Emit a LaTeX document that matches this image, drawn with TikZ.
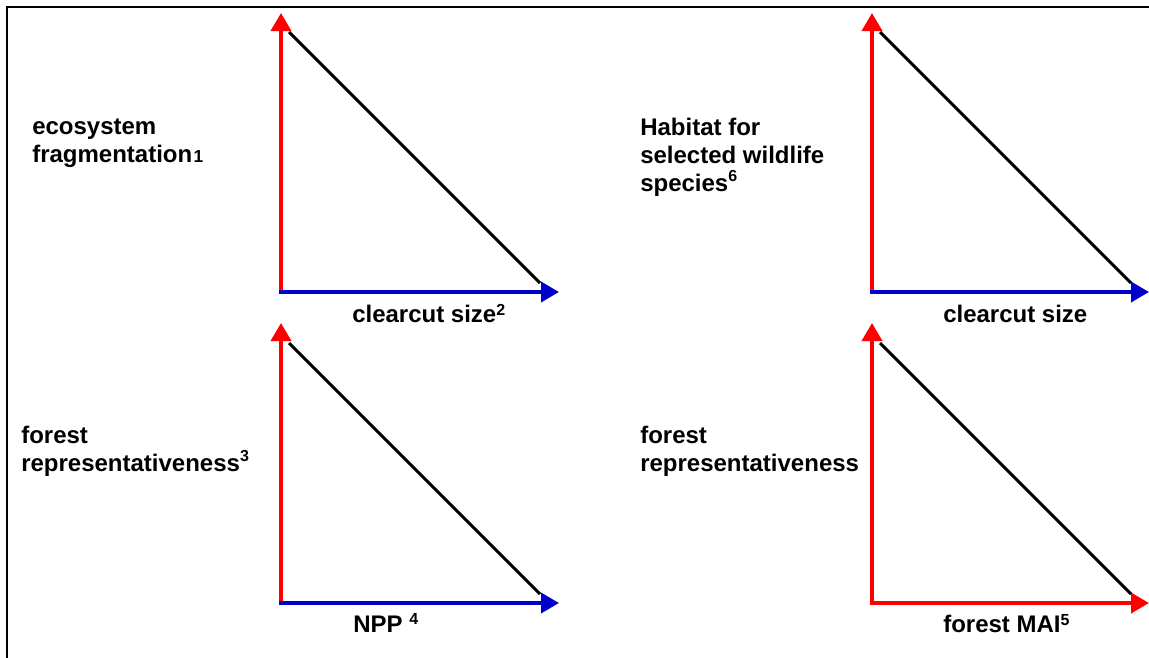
\documentclass[tikz,border=0pt]{standalone}
\usepackage{fontspec}
\setmainfont{Liberation Sans}
\usetikzlibrary{arrows.meta}
\definecolor{axred}{RGB}{255,0,0}
\definecolor{axblue}{RGB}{0,0,204}
\newcommand{\noteref}[2][0pt]{\raisebox{#1}{\fontsize{12}{12}\selectfont #2}}

\begin{document}
\begin{tikzpicture}[x=0.75pt,y=-0.75pt,>={Triangle[length=13.5pt,width=15pt]},
    axis/.style={line width=2.8pt,->},
    trend/.style={line width=2.3pt},
    lbl/.style={font=\bfseries\fontsize{18}{21}\selectfont,inner sep=0pt,align=left,anchor=base west}]
      \useasboundingbox (0,0) rectangle (1149,657);
      \draw[line width=1.5pt] (7,670) -- (7,7) -- (1160,7);
      % top left
      \coordinate (oA) at (281,292);
      \coordinate (yA) at (281,13);
      \coordinate (xA) at (559,292);
      \draw[axis,axred] (oA) -- (yA);
      \draw[axis,axblue,shorten <=-1.4pt] (oA) -- (xA);
      \draw[trend] (289,32) coordinate (sA) -- (540,283) coordinate (eA);
      \node[lbl] (fragLabel) at (32,162) {ecosystem\\fragmentation\kern1pt{\fontsize{13}{13}\selectfont 1}};
      \node[lbl] (cutLabelA) at (352,322) {clearcut size\noteref[5pt]{2}};
      % top right
      \coordinate (oB) at (872,292);
      \coordinate (yB) at (872,13);
      \coordinate (xB) at (1149,292);
      \draw[axis,axred] (oB) -- (yB);
      \draw[axis,axblue,shorten <=-1.4pt] (oB) -- (xB);
      \draw[trend] (880,32) coordinate (sB) -- (1131,283) coordinate (eB);
      \node[lbl] (habLabel) at (640,191) {Habitat for\\selected wildlife\\species\noteref[7pt]{6}};
      \node[lbl] (cutLabelB) at (943,322) {clearcut size};
      % bottom left
      \coordinate (oC) at (281,603);
      \coordinate (yC) at (281,323);
      \coordinate (xC) at (559,603);
      \draw[axis,axred] (oC) -- (yC);
      \draw[axis,axblue,shorten <=-1.4pt] (oC) -- (xC);
      \draw[trend] (289,343) coordinate (sC) -- (540,594) coordinate (eC);
      \node[lbl] (repLabelC) at (21,471) {forest\\representativeness\noteref[7pt]{3}};
      \node[lbl] (nppLabel) at (353,632) {NPP \noteref[6pt]{4}};
      % bottom right
      \coordinate (oD) at (872,603);
      \coordinate (yD) at (872,323);
      \coordinate (xD) at (1149,603);
      \draw[axis,axred] (oD) -- (yD);
      \draw[axis,axred,shorten <=-1.4pt] (oD) -- (xD);
      \draw[trend] (880,343) coordinate (sD) -- (1131,594) coordinate (eD);
      \node[lbl] (repLabelD) at (640,471) {forest\\representativeness};
      \node[lbl] (maiLabel) at (943,632) {forest MAI\noteref[5pt]{5}};
    \end{tikzpicture}
\end{document}
